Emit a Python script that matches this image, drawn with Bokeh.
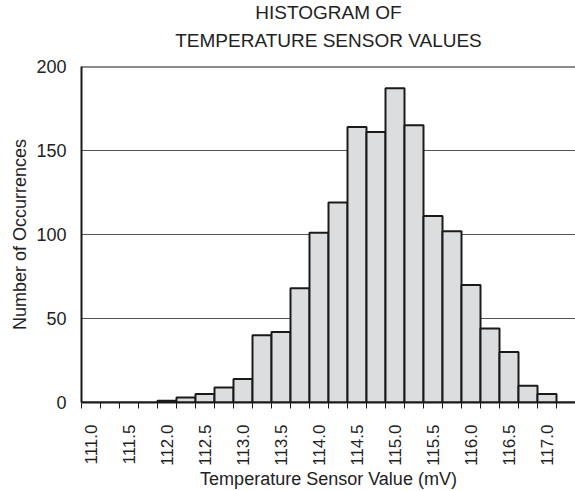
import math
from bokeh.plotting import figure
from bokeh.models import Range1d, FixedTicker, PrintfTickFormatter, Span, Title
from bokeh.embed import file_html
from bokeh.resources import INLINE

# Data
bin_centers = [111.0, 111.25, 111.5, 111.75, 112.0, 112.25, 112.5, 112.75,
               113.0, 113.25, 113.5, 113.75, 114.0, 114.25, 114.5, 114.75,
               115.0, 115.25, 115.5, 115.75, 116.0, 116.25, 116.5, 116.75,
               117.0, 117.25]
counts = [0, 0, 0, 0, 1, 3, 5, 9, 14, 40, 42, 68, 101, 119, 164, 161,
          187, 165, 111, 102, 70, 44, 30, 10, 5, 0]
x_tick_labels = [111.0, 111.5, 112.0, 112.5, 113.0, 113.5, 114.0, 114.5,
                 115.0, 115.5, 116.0, 116.5, 117.0]
y_ticks = [0, 50, 100, 150, 200]
title_lines = ["HISTOGRAM OF", "TEMPERATURE SENSOR VALUES"]
bin_width = 0.25

FONT = "Liberation Sans"
TXT = "#222222"
LINE = "#1a1a1a"

edges_left = [c - bin_width / 2 for c in bin_centers]
edges_right = [c + bin_width / 2 for c in bin_centers]
minor_edges = [c - bin_width / 2 for c in bin_centers]

p = figure(width=575, height=491,
           output_backend="svg", toolbar_location=None, title=None,
           x_range=Range1d(edges_left[0], edges_right[-1]),
           y_range=Range1d(0, 200),
           min_border_left=81, min_border_right=0, min_border_top=66,
           min_border_bottom=89)

# Title lines (first added sits closest to the frame)
t2 = Title(text=title_lines[1], align="center", text_font=FONT,
           text_font_size="19px", text_font_style="normal", text_color=TXT,
           standoff=27, vertical_align="top")
t1 = Title(text=title_lines[0], align="center", text_font=FONT,
           text_font_size="19px", text_font_style="normal", text_color=TXT,
           standoff=-12, vertical_align="bottom")
p.add_layout(t2, "above")
p.add_layout(t1, "above")

p.outline_line_color = None
p.background_fill_color = "white"

p.quad(left=edges_left, right=edges_right, bottom=0, top=counts,
       fill_color="#dcdddf", line_color=LINE, line_width=2)

p.add_layout(Span(location=200, dimension="width", line_color=LINE,
                  line_width=2))

# grids
p.xgrid.grid_line_color = None
p.ygrid.ticker = FixedTicker(ticks=[50, 100, 150])
p.ygrid.grid_line_color = "#555555"
p.ygrid.grid_line_width = 1
p.ygrid.level = "underlay"

# x axis
xa = p.xaxis[0]
xa.ticker = FixedTicker(ticks=x_tick_labels, minor_ticks=minor_edges)
xa.formatter = PrintfTickFormatter(format="%.1f")
xa.major_label_orientation = math.pi / 2
xa.major_tick_line_color = None
xa.major_tick_in = 0
xa.major_tick_out = 0
xa.minor_tick_in = 0
xa.minor_tick_out = 6
xa.minor_tick_line_color = LINE
xa.minor_tick_line_width = 1
xa.axis_line_width = 2
xa.axis_line_color = LINE
xa.major_label_standoff = 16
xa.major_label_text_font = FONT
xa.major_label_text_font_size = "17px"
xa.major_label_text_color = TXT
xa.axis_label = "Temperature Sensor Value (mV)"
xa.axis_label_text_font = FONT
xa.axis_label_text_font_size = "18px"
xa.axis_label_text_font_style = "normal"
xa.axis_label_text_color = TXT
xa.axis_label_standoff = 0

# y axis
ya = p.yaxis[0]
ya.ticker = FixedTicker(ticks=y_ticks)
ya.major_tick_line_color = None
ya.major_tick_in = 0
ya.major_tick_out = 0
ya.minor_tick_line_color = None
ya.axis_line_width = 2
ya.axis_line_color = LINE
ya.major_label_standoff = 15
ya.major_label_text_font = FONT
ya.major_label_text_font_size = "18px"
ya.major_label_text_color = TXT
ya.axis_label = "Number of Occurrences"
ya.axis_label_text_font = FONT
ya.axis_label_text_font_size = "18px"
ya.axis_label_text_font_style = "normal"
ya.axis_label_text_color = TXT
ya.axis_label_standoff = 3

open("out.html", "w").write(file_html(p, INLINE))
